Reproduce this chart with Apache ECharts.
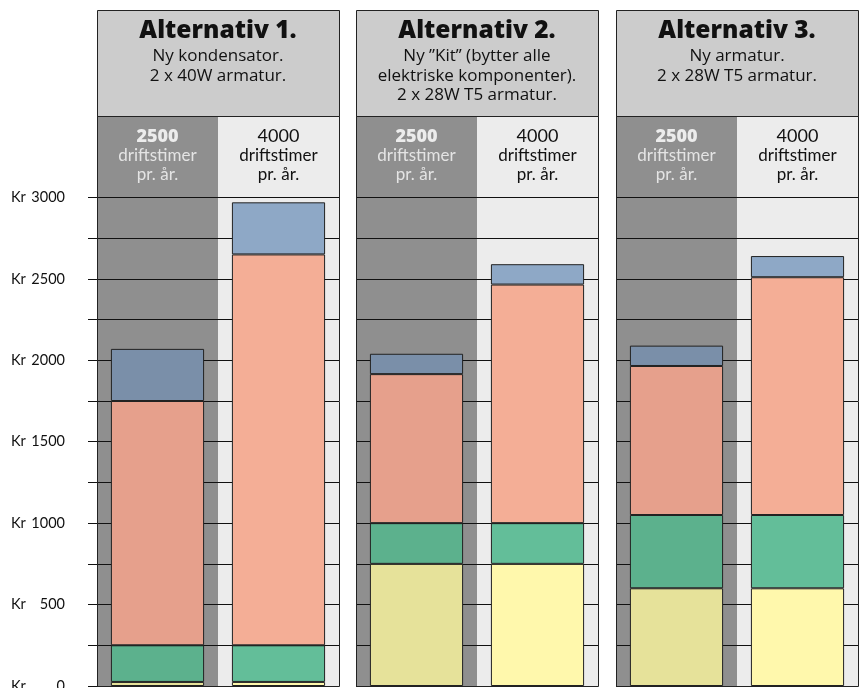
<!DOCTYPE html>
<html><head><meta charset="utf-8">
<script src="https://cdn.jsdelivr.net/npm/echarts@6/dist/echarts.min.js"></script>
<style>html,body{margin:0;padding:0;background:#fff}#c{width:862px;height:688px}</style>
</head><body><div id="c"></div>
<script>
// ---- data ----
const alternatives = ['Alternativ 1.', 'Alternativ 2.', 'Alternativ 3.'];
const descAlt1 = ['Ny kondensator.', '2 x 40W armatur.'];
const descAlt2 = ['Ny \u201dKit\u201d (bytter alle', 'elektriske komponenter).', '2 x 28W T5 armatur.'];
const descAlt3 = ['Ny armatur.', '2 x 28W T5 armatur.'];
const hourCategories = ['2500', '4000'];
const hourUnitLines = ['driftstimer', 'pr. \u00e5r.'];
const yTickValues = [0, 250, 500, 750, 1000, 1250, 1500, 1750, 2000, 2250, 2500, 2750, 3000];
const yLabelValues = [0, 500, 1000, 1500, 2000, 2500, 3000];
const seriesNames = ['Del 1', 'Del 2', 'Del 3', 'Del 4'];
// segment heights (kr) per alternative: [2500 h, 4000 h]
const segYellow = [[25, 25], [750, 750], [600, 600]];
const segGreen  = [[225, 225], [250, 250], [450, 450]];
const segSalmon = [[1500, 2400], [915, 1465], [915, 1460]];
const segBlue   = [[320, 320], [125, 125], [125, 130]];

// ---- styles / layout ----
const descriptions = [descAlt1, descAlt2, descAlt3];
const segments = [segYellow, segGreen, segSalmon, segBlue];
const palette = [
  ['#e6e29a', '#fff8ac'],
  ['#5cb18d', '#63be99'],
  ['#e6a08c', '#f4ae96'],
  ['#7a8fa9', '#8ea8c6']
];
const panelLefts = [97, 356, 616];
const panelWidth = 242;
const headerTop = 10;
const plotTop = 116;
const plotBottomGap = 2;
const chartH = 688;
const FONT = 'Lato';
const HFONT = 'Open Sans';

const splitColors = yTickValues.map(() => '#111').concat(['rgba(0,0,0,0)', 'rgba(0,0,0,0)', 'rgba(0,0,0,0)']);

const chart = echarts.init(document.getElementById('c'), null, {renderer: 'canvas'});

const grids = panelLefts.map(l => ({
  left: l, width: panelWidth, top: plotTop, bottom: plotBottomGap,
  containLabel: false, outerBoundsMode: 'none'
}));

const xAxes = panelLefts.map((l, i) => ({
  type: 'category', gridIndex: i, data: hourCategories, position: 'top',
  axisLine: {show: false}, axisTick: {show: false},
  splitArea: {show: true, areaStyle: {color: ['#8f8f8f', '#ececec']}},
  axisLabel: {
    inside: true, margin: 11, interval: 0,
    formatter: (v, idx) => idx === 0
      ? '{hb|' + v + '}\n' + hourUnitLines.map(t => '{lb|' + t + '}').join('\n')
      : '{hn|' + v + '}\n' + hourUnitLines.map(t => '{ln|' + t + '}').join('\n'),
    rich: {
      hb: {fontFamily: HFONT, fontWeight: 800, fontSize: 18, color: '#ececec', lineHeight: 19, align: 'center'},
      lb: {fontFamily: FONT, fontSize: 17, color: '#e4e4e4', lineHeight: 19, align: 'center'},
      hn: {fontFamily: FONT, fontSize: 18, color: '#111', lineHeight: 19, align: 'center'},
      ln: {fontFamily: FONT, fontSize: 17, color: '#111', lineHeight: 19, align: 'center'}
    }
  },
  z: 0
}));

const yAxes = panelLefts.map((l, i) => ({
  type: 'value', gridIndex: i, min: 0, max: 3500, interval: 250,
  axisLine: {show: false},
  axisTick: {show: i === 0, length: 9, customValues: yTickValues, lineStyle: {color: '#111'}},
  axisLabel: {
    show: i === 0, customValues: yLabelValues, margin: 32,
    formatter: v => '{k|Kr}{n|' + v + '}',
    rich: {
      k: {fontFamily: FONT, fontSize: 14.5, color: '#111', width: 19, align: 'left'},
      n: {fontFamily: FONT, fontSize: 14.5, color: '#111', width: 35, align: 'right'}
    }
  },
  splitLine: {show: true, lineStyle: {color: splitColors, width: 1}},
  z: 1
}));

const series = [];
alternatives.forEach((alt, a) => {
  segments.forEach((seg, s) => {
    series.push({
      type: 'bar', name: seriesNames[s], stack: 'alt' + a,
      xAxisIndex: a, yAxisIndex: a, barWidth: '77%', z: 3,
      itemStyle: {borderColor: '#222', borderWidth: 1},
      emphasis: {disabled: true},
      data: seg[a].map((v, c) => ({value: v, itemStyle: {color: palette[s][c]}}))
    });
  });
});

const graphics = [];
panelLefts.forEach((l, i) => {
  graphics.push({type: 'rect', shape: {x: l + 0.5, y: headerTop + 0.5, width: panelWidth, height: plotTop - headerTop},
    style: {fill: '#cccccc', stroke: '#222', lineWidth: 1}, z: 10});
  graphics.push({type: 'rect', shape: {x: l + 0.5, y: plotTop + 0.5, width: panelWidth, height: chartH - plotBottomGap - plotTop},
    style: {fill: 'none', stroke: '#222', lineWidth: 1}, z: 100});
  graphics.push({type: 'text', x: l + panelWidth / 2, y: 31, z: 11,
    style: {text: alternatives[i], fontFamily: HFONT, fontWeight: 800, fontSize: 24.5, fill: '#111', align: 'center', verticalAlign: 'middle'}});
  graphics.push({type: 'text', x: l + panelWidth / 2, y: 46.5, z: 11,
    style: {text: descriptions[i].join('\n'), fontFamily: HFONT, fontSize: 17, lineHeight: 19.5, fill: '#111', align: 'center', verticalAlign: 'top'}});
});

chart.setOption({
  backgroundColor: '#ffffff',
  animation: false,
  grid: grids,
  xAxis: xAxes,
  yAxis: yAxes,
  series: series,
  graphic: graphics
});
</script></body></html>
